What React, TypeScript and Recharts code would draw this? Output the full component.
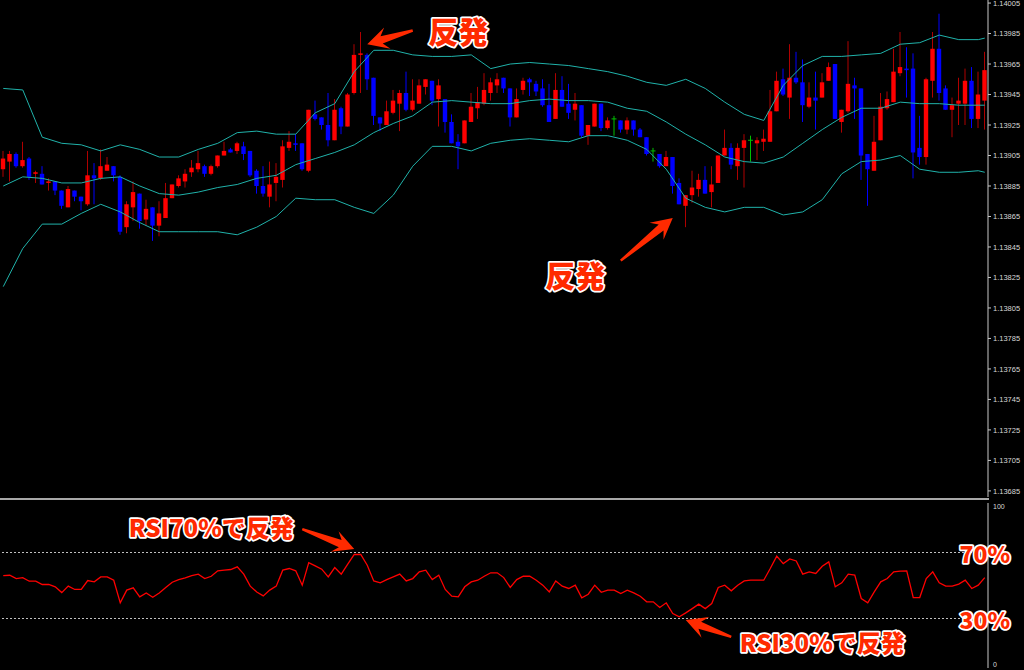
import { ComposedChart, Bar, Line, XAxis, YAxis, ReferenceLine, ReferenceDot } from "recharts";

// EURUSD-style candles, oldest first
const OPEN = [
  1.13896, 1.13901, 1.13906, 1.13898, 1.13903, 1.13893, 1.13893, 1.13887, 1.13888, 1.13882,
  1.13871, 1.13882, 1.13878, 1.13873, 1.13892, 1.13890, 1.13895, 1.13898, 1.13891, 1.13858,
  1.13871, 1.13880, 1.13863, 1.13871, 1.13859, 1.13864, 1.13877, 1.13885, 1.13888, 1.13894,
  1.13896, 1.13898, 1.13893, 1.13898, 1.13905, 1.13909, 1.13908, 1.13911, 1.13908, 1.13895,
  1.13885, 1.13878, 1.13887, 1.13889, 1.13910, 1.13913, 1.13913, 1.13895, 1.13932, 1.13930,
  1.13925, 1.13915, 1.13936, 1.13924, 1.13946, 1.13971, 1.13971, 1.13956, 1.13930, 1.13925,
  1.13933, 1.13939, 1.13946, 1.13935, 1.13939, 1.13950, 1.13954, 1.13942, 1.13942, 1.13927,
  1.13914, 1.13913, 1.13927, 1.13936, 1.13939, 1.13946, 1.13951, 1.13956, 1.13949, 1.13930,
  1.13948, 1.13955, 1.13952, 1.13949, 1.13938, 1.13929, 1.13948, 1.13939, 1.13935, 1.13938,
  1.13918, 1.13924, 1.13939, 1.13923, 1.13929, 1.13928, 1.13922, 1.13928, 1.13922, 1.13917,
  1.13908, 1.13906, 1.13898, 1.13904, 1.13887, 1.13872, 1.13879, 1.13883, 1.13889, 1.13881,
  1.13887, 1.13905, 1.13910, 1.13898, 1.13910, 1.13915, 1.13913, 1.13914, 1.13914, 1.13934,
  1.13955, 1.13943, 1.13956, 1.13953, 1.13937, 1.13943, 1.13943, 1.13954, 1.13965, 1.13927,
  1.13934, 1.13951, 1.13949, 1.13906, 1.13895, 1.13915, 1.13936, 1.13940, 1.13959, 1.13962,
  1.13962, 1.13910, 1.13904, 1.13954, 1.13975, 1.13949, 1.13935, 1.13939, 1.13939, 1.13954,
  1.13929, 1.13941,
];
const HIGH = [
  1.13908, 1.13908, 1.13907, 1.13914, 1.13904, 1.13895, 1.13898, 1.13890, 1.13888, 1.13882,
  1.13885, 1.13882, 1.13878, 1.13908, 1.13900, 1.13909, 1.13904, 1.13898, 1.13892, 1.13875,
  1.13888, 1.13880, 1.13876, 1.13871, 1.13875, 1.13887, 1.13886, 1.13892, 1.13896, 1.13902,
  1.13908, 1.13899, 1.13899, 1.13905, 1.13914, 1.13910, 1.13914, 1.13914, 1.13908, 1.13896,
  1.13898, 1.13901, 1.13900, 1.13915, 1.13921, 1.13919, 1.13913, 1.13935, 1.13941, 1.13930,
  1.13946, 1.13942, 1.13937, 1.13946, 1.13978, 1.13986, 1.13972, 1.13956, 1.13930, 1.13941,
  1.13948, 1.13948, 1.13960, 1.13955, 1.13955, 1.13955, 1.13954, 1.13955, 1.13942, 1.13932,
  1.13919, 1.13928, 1.13946, 1.13950, 1.13959, 1.13956, 1.13959, 1.13956, 1.13949, 1.13949,
  1.13956, 1.13956, 1.13954, 1.13955, 1.13952, 1.13959, 1.13957, 1.13952, 1.13946, 1.13938,
  1.13925, 1.13939, 1.13939, 1.13930, 1.13931, 1.13928, 1.13930, 1.13928, 1.13923, 1.13917,
  1.13910, 1.13906, 1.13908, 1.13904, 1.13890, 1.13879, 1.13895, 1.13893, 1.13898, 1.13898,
  1.13905, 1.13922, 1.13913, 1.13913, 1.13919, 1.13918, 1.13917, 1.13922, 1.13948, 1.13960,
  1.13962, 1.13978, 1.13973, 1.13968, 1.13953, 1.13960, 1.13959, 1.13966, 1.13965, 1.13935,
  1.13980, 1.13956, 1.13949, 1.13906, 1.13931, 1.13946, 1.13947, 1.13975, 1.13986, 1.13976,
  1.13972, 1.13931, 1.13956, 1.13986, 1.13998, 1.13951, 1.13943, 1.13956, 1.13962, 1.13963,
  1.13960, 1.13973,
];
const LOW = [
  1.13891, 1.13888, 1.13897, 1.13897, 1.13889, 1.13887, 1.13886, 1.13882, 1.13879, 1.13870,
  1.13871, 1.13875, 1.13869, 1.13872, 1.13873, 1.13889, 1.13895, 1.13888, 1.13853, 1.13854,
  1.13862, 1.13857, 1.13859, 1.13849, 1.13852, 1.13864, 1.13877, 1.13884, 1.13884, 1.13891,
  1.13894, 1.13891, 1.13892, 1.13897, 1.13905, 1.13907, 1.13906, 1.13902, 1.13891, 1.13880,
  1.13878, 1.13871, 1.13875, 1.13884, 1.13908, 1.13908, 1.13895, 1.13894, 1.13928, 1.13922,
  1.13911, 1.13915, 1.13919, 1.13924, 1.13945, 1.13946, 1.13948, 1.13925, 1.13921, 1.13925,
  1.13932, 1.13921, 1.13934, 1.13934, 1.13939, 1.13945, 1.13938, 1.13924, 1.13920, 1.13913,
  1.13896, 1.13913, 1.13927, 1.13929, 1.13938, 1.13941, 1.13946, 1.13946, 1.13924, 1.13930,
  1.13945, 1.13944, 1.13944, 1.13937, 1.13927, 1.13929, 1.13937, 1.13929, 1.13928, 1.13917,
  1.13912, 1.13924, 1.13921, 1.13922, 1.13918, 1.13920, 1.13919, 1.13918, 1.13917, 1.13905,
  1.13901, 1.13897, 1.13898, 1.13880, 1.13873, 1.13858, 1.13874, 1.13878, 1.13880, 1.13871,
  1.13887, 1.13905, 1.13896, 1.13889, 1.13884, 1.13901, 1.13902, 1.13908, 1.13914, 1.13934,
  1.13944, 1.13929, 1.13952, 1.13927, 1.13936, 1.13922, 1.13943, 1.13954, 1.13929, 1.13920,
  1.13933, 1.13929, 1.13889, 1.13872, 1.13895, 1.13915, 1.13935, 1.13940, 1.13957, 1.13943,
  1.13890, 1.13899, 1.13899, 1.13943, 1.13941, 1.13935, 1.13917, 1.13925, 1.13925, 1.13923,
  1.13923, 1.13922,
];
const CLOSE = [
  1.13903, 1.13906, 1.13898, 1.13902, 1.13891, 1.13894, 1.13886, 1.13888, 1.13882, 1.13872,
  1.13883, 1.13878, 1.13875, 1.13892, 1.13890, 1.13898, 1.13899, 1.13892, 1.13855, 1.13873,
  1.13881, 1.13862, 1.13870, 1.13859, 1.13867, 1.13877, 1.13886, 1.13890, 1.13893, 1.13897,
  1.13900, 1.13893, 1.13898, 1.13905, 1.13908, 1.13907, 1.13913, 1.13906, 1.13892, 1.13885,
  1.13880, 1.13886, 1.13891, 1.13911, 1.13914, 1.13912, 1.13896, 1.13935, 1.13929, 1.13925,
  1.13915, 1.13935, 1.13924, 1.13945, 1.13971, 1.13972, 1.13955, 1.13931, 1.13926, 1.13934,
  1.13941, 1.13946, 1.13935, 1.13941, 1.13951, 1.13955, 1.13941, 1.13951, 1.13927, 1.13913,
  1.13911, 1.13928, 1.13937, 1.13940, 1.13948, 1.13953, 1.13955, 1.13949, 1.13930, 1.13942,
  1.13954, 1.13953, 1.13947, 1.13938, 1.13927, 1.13948, 1.13937, 1.13933, 1.13939, 1.13918,
  1.13925, 1.13939, 1.13923, 1.13928, 1.13929, 1.13922, 1.13928, 1.13922, 1.13917, 1.13906,
  1.13908, 1.13898, 1.13904, 1.13885, 1.13873, 1.13879, 1.13884, 1.13889, 1.13880, 1.13886,
  1.13905, 1.13910, 1.13899, 1.13910, 1.13915, 1.13915, 1.13915, 1.13916, 1.13934, 1.13954,
  1.13945, 1.13956, 1.13953, 1.13938, 1.13943, 1.13941, 1.13953, 1.13963, 1.13929, 1.13935,
  1.13952, 1.13949, 1.13905, 1.13896, 1.13914, 1.13937, 1.13942, 1.13960, 1.13963, 1.13961,
  1.13907, 1.13904, 1.13955, 1.13975, 1.13946, 1.13935, 1.13938, 1.13941, 1.13954, 1.13929,
  1.13945, 1.13961,
];

// Bollinger bands read every 3rd candle (last point on the final candle)
const BB_UPPER = [
  1.13949, 1.13948, 1.13917, 1.13913, 1.13912, 1.13908, 1.13912, 1.13909, 1.13904, 1.13904,
  1.13909, 1.13913, 1.13920, 1.13921, 1.13919, 1.13919, 1.13933, 1.13939, 1.13960, 1.13974,
  1.13974, 1.13971, 1.13970, 1.13970, 1.13971, 1.13962, 1.13965, 1.13966, 1.13965, 1.13964,
  1.13962, 1.13960, 1.13957, 1.13953, 1.13951, 1.13955, 1.13949, 1.13940, 1.13932, 1.13928,
  1.13951, 1.13964, 1.13970, 1.13970, 1.13971, 1.13972, 1.13978, 1.13979, 1.13984, 1.13981,
  1.13981, 1.13982,
];
const BB_MIDDLE = [
  1.13885, 1.13891, 1.13890, 1.13887, 1.13887, 1.13890, 1.13891, 1.13885, 1.13880, 1.13879,
  1.13881, 1.13884, 1.13886, 1.13890, 1.13892, 1.13899, 1.13903, 1.13907, 1.13912, 1.13920,
  1.13926, 1.13931, 1.13940, 1.13941, 1.13940, 1.13939, 1.13939, 1.13941, 1.13942, 1.13941,
  1.13941, 1.13940, 1.13936, 1.13934, 1.13927, 1.13919, 1.13912, 1.13904, 1.13901, 1.13900,
  1.13904, 1.13913, 1.13922, 1.13930, 1.13936, 1.13936, 1.13940, 1.13939, 1.13939, 1.13938,
  1.13938, 1.13938,
];
const BB_LOWER = [
  1.13819, 1.13844, 1.13860, 1.13860, 1.13867, 1.13873, 1.13868, 1.13861, 1.13855, 1.13855,
  1.13855, 1.13855, 1.13853, 1.13858, 1.13865, 1.13877, 1.13876, 1.13876, 1.13871, 1.13867,
  1.13879, 1.13898, 1.13911, 1.13911, 1.13908, 1.13913, 1.13915, 1.13916, 1.13915, 1.13914,
  1.13918, 1.13918, 1.13915, 1.13909, 1.13896, 1.13877, 1.13871, 1.13868, 1.13871, 1.13871,
  1.13866, 1.13868, 1.13876, 1.13893, 1.13901, 1.13902, 1.13905, 1.13896, 1.13894, 1.13894,
  1.13895, 1.13894,
];

const RSI = [
  56.0, 56.2, 54.2, 54.8, 52.6, 52.6, 50.6, 50.6, 49.2, 45.7,
  49.6, 47.6, 47.6, 53.0, 52.2, 55.2, 55.2, 53.2, 39.5, 47.2,
  48.6, 43.1, 45.5, 42.9, 45.5, 48.8, 52.0, 53.6, 54.6, 56.0,
  56.9, 54.2, 55.6, 58.9, 59.3, 59.7, 61.3, 56.9, 49.6, 46.1,
  43.7, 47.2, 49.6, 59.3, 60.3, 58.9, 50.2, 63.9, 61.9, 59.9,
  55.2, 60.9, 56.9, 62.9, 68.8, 68.8, 62.3, 52.8, 51.6, 53.6,
  55.2, 56.9, 52.8, 54.2, 58.3, 59.3, 53.6, 56.3, 47.6, 43.5,
  43.1, 49.2, 52.2, 53.2, 55.6, 57.7, 57.7, 54.8, 48.8, 53.6,
  55.6, 55.6, 53.2, 50.2, 46.1, 52.8, 49.6, 48.2, 50.2, 42.5,
  44.7, 50.2, 45.9, 47.2, 47.2, 45.1, 47.2, 45.5, 43.5, 40.1,
  40.1, 36.7, 39.5, 33.0, 31.0, 33.4, 36.0, 38.7, 36.0, 39.1,
  48.8, 50.2, 46.8, 50.2, 52.8, 53.2, 53.2, 53.2, 60.3, 67.8,
  63.3, 66.1, 64.9, 56.9, 58.3, 57.3, 61.7, 64.3, 49.2, 51.6,
  56.9, 56.3, 42.1, 39.5, 46.1, 52.2, 54.2, 58.3, 58.7, 58.9,
  42.7, 42.7, 54.2, 58.3, 51.6, 49.6, 49.6, 50.8, 53.2, 48.2,
  50.2, 54.8,
];

const PRICE_TICKS = [
  1.14005, 1.13985, 1.13965, 1.13945, 1.13925, 1.13905, 1.13885, 1.13865, 1.13845,
  1.13825, 1.13805, 1.13785, 1.13765, 1.13745, 1.13725, 1.13705, 1.13685,
];
const RSI_TICKS = [0, 100];
const RSI_LEVELS = [70, 30];

// annotations, in data units: [candle index, value]
const PRICE_ARROWS = [
  { from: [63, 1.13987], to: [56, 1.13978] },
  { from: [95, 1.13836], to: [103, 1.13864] },
];
const PRICE_NOTES = [
  { at: [70, 1.13987], text: "反発", size: 30 },
  { at: [88, 1.13827], text: "反発", size: 30 },
];
const RSI_ARROWS = [
  { from: [46, 84.2], to: [54, 72.1] },
  { from: [112, 18.8], to: [105, 29.1] },
];
const RSI_NOTES = [
  { at: [32, 85.5], text: "RSI70%で反発", size: 24 },
  { at: [126, 15.8], text: "RSI30%で反発", size: 24 },
  { at: [151, 69.7], text: "70%", size: 23 },
  { at: [151, 29.7], text: "30%", size: 23 },
];

const UP = "#ff0000";
const UP_WICK = "#b00000";
const DOWN = "#0000ff";
const DOJI = "#00c000";
const BAND = "#20b2aa";
const AXIS = "#c8c8c8";
const RED = "#ff2a00";

const BB_STEP = 3;

const rows = OPEN.map((o, i) => ({
  i,
  open: o,
  high: HIGH[i],
  low: LOW[i],
  close: CLOSE[i],
  range: [LOW[i], HIGH[i]],
}));

// band points sit on their own candles
const bandRows = BB_UPPER.map((v, k) => ({
  i: Math.min(k * BB_STEP, OPEN.length - 1),
  upper: v,
  middle: BB_MIDDLE[k],
  lower: BB_LOWER[k],
}));

const rsiRows = RSI.map((v, i) => ({ i, rsi: v }));

function Candle(props: any) {
  const { x, y, width, height, payload } = props;
  if (!payload || x == null || y == null) return null;
  const top0 = height < 0 ? y + height : y;
  const h = Math.abs(height);
  const { open, close, high, low } = payload;
  const cx = x + width / 2;
  const k = high > low ? h / (high - low) : 0;
  const py = (v: number) => top0 + (high - v) * k;
  const doji = open === close;
  const up = close > open;
  const body = doji ? DOJI : up ? UP : DOWN;
  const wick = doji ? DOJI : up ? UP_WICK : DOWN;
  const bt = py(Math.max(open, close));
  const bb = py(Math.min(open, close));
  return (
    <g>
      <line x1={cx} x2={cx} y1={top0} y2={top0 + h} stroke={wick} strokeWidth={1} />
      {doji ? (
        <line x1={cx - 2.5} x2={cx + 2.5} y1={bt} y2={bt} stroke={body} strokeWidth={1} />
      ) : (
        <rect x={cx - 2.2} y={bt} width={4.4} height={Math.max(1, bb - bt)} fill={body} />
      )}
    </g>
  );
}

// tapered arrow from (x1,y1) tail to (x2,y2) tip
function Arrow(props: any) {
  const { x1, y1, x2, y2 } = props;
  if ([x1, y1, x2, y2].some((v) => v == null || isNaN(v))) return null;
  const dx = x2 - x1;
  const dy = y2 - y1;
  const len = Math.hypot(dx, dy) || 1;
  const ux = dx / len;
  const uy = dy / len;
  const nx = -uy;
  const ny = ux;
  const p = (d: number, w: number) => `${x2 - ux * d + nx * w},${y2 - uy * d + ny * w}`;
  const pts = [
    p(len, 1.2), p(15, 3.8), p(21, 11), `${x2},${y2}`, p(21, -11), p(15, -3.8), p(len, -1.2),
  ].join(" ");
  return <polygon points={pts} fill={RED} />;
}

function note(text: string, size: number) {
  return (props: any) => {
    const { cx, cy } = props;
    if (cx == null || cy == null) return <g />;
    return (
      <text
        x={cx}
        y={cy}
        textAnchor="middle"
        dominantBaseline="central"
        fontFamily="'Noto Sans CJK JP', sans-serif"
        fontWeight={900}
        fontSize={size}
        fill={RED}
        stroke="#ffffff"
        strokeWidth={3.5}
        strokeLinejoin="round"
        paintOrder="stroke"
      >
        {text}
      </text>
    );
  };
}

function RsiTick(props: any) {
  const { x, y, payload } = props;
  const dy = payload.value === 100 ? 4 : -3;
  return (
    <text x={x} y={y + dy} dy="0.35em" fill="#d8d8d8" fontSize={7} fontFamily="'Liberation Sans', Arial, sans-serif">
      {payload.value}
    </text>
  );
}

const noDot = () => <g />;

export default function App() {
  return (
    <div style={{ position: "absolute", left: 0, top: 0, width: 1024, height: 670, background: "#000", overflow: "hidden" }}>
      {/* no markers on any line, ever */}
      <style>{".recharts-line-dot, .recharts-active-dot { display: none; }"}</style>
      <div style={{ position: "absolute", left: 0, top: 0 }}>
        <ComposedChart width={1024} height={497} data={rows} margin={{ top: 0, right: 0, bottom: 0, left: 0 }}>
          <XAxis dataKey="i" hide allowDuplicatedCategory={false} />
          <YAxis
            orientation="right"
            width={36}
            domain={[1.13681, 1.14007]}
            ticks={PRICE_TICKS}
            interval={0}
            allowDataOverflow
            tickFormatter={(v: number) => v.toFixed(5)}
            tick={{ fill: "#d8d8d8", fontSize: 7.5, fontFamily: "'Liberation Sans', Arial, sans-serif" }}
            tickSize={3}
            tickMargin={2}
            tickLine={{ stroke: AXIS }}
            axisLine={{ stroke: AXIS }}
          />
          <Bar dataKey="range" barSize={4} shape={(p: any) => <Candle {...p} />} isAnimationActive={false} />
          {["upper", "middle", "lower"].map((key) => (
            <Line
              key={key}
              data={bandRows}
              dataKey={key}
              stroke={BAND}
              strokeWidth={1}
              dot={noDot}
              activeDot={false}
              isAnimationActive={false}
            />
          ))}
          {PRICE_ARROWS.map((a, k) => (
            <ReferenceLine
              key={`pa${k}`}
              segment={[{ x: a.from[0], y: a.from[1] }, { x: a.to[0], y: a.to[1] }]}
              shape={(p: any) => <Arrow {...p} />}
            />
          ))}
          {PRICE_NOTES.map((n, k) => (
            <ReferenceDot key={`pn${k}`} x={n.at[0]} y={n.at[1]} shape={note(n.text, n.size)} />
          ))}
        </ComposedChart>
      </div>
      <div style={{ position: "absolute", left: 0, top: 500 }}>
        <ComposedChart width={1024} height={170} data={rsiRows} margin={{ top: 3, right: 0, bottom: 2, left: 0 }}>
          <XAxis dataKey="i" scale="band" hide />
          <YAxis
            orientation="right"
            width={36}
            domain={[0, 100]}
            ticks={RSI_TICKS}
            interval={0}
            tick={<RsiTick />}
            tickLine={false}
            tickSize={3}
            tickMargin={2}
            axisLine={{ stroke: AXIS }}
          />
          {RSI_LEVELS.map((lv) => (
            <ReferenceLine key={lv} y={lv} stroke="#c0c0c0" strokeDasharray="2 2" />
          ))}
          <Line dataKey="rsi" stroke="#ff0000" strokeWidth={1.3} dot={false} activeDot={false} isAnimationActive={false} />
          {RSI_ARROWS.map((a, k) => (
            <ReferenceLine
              key={`ra${k}`}
              segment={[{ x: a.from[0], y: a.from[1] }, { x: a.to[0], y: a.to[1] }]}
              shape={(p: any) => <Arrow {...p} />}
            />
          ))}
          {RSI_NOTES.map((n, k) => (
            <ReferenceDot key={`rn${k}`} x={n.at[0]} y={n.at[1]} shape={note(n.text, n.size)} />
          ))}
        </ComposedChart>
      </div>
      <div style={{ position: "absolute", left: 0, top: 498, width: 989, height: 2, background: "#a8a8a8" }} />
    </div>
  );
}
